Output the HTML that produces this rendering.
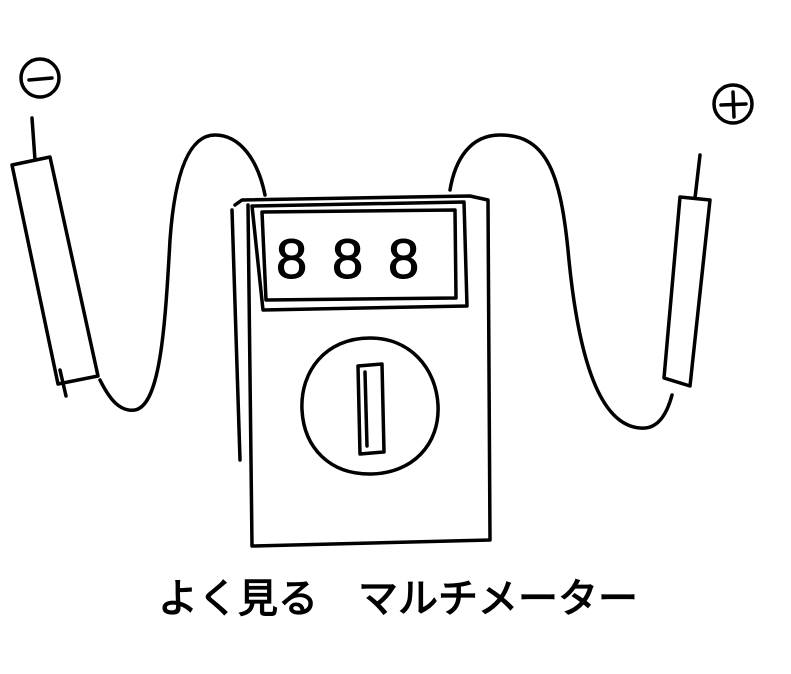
<!DOCTYPE html>
<html><head><meta charset="utf-8"><style>
html,body{margin:0;padding:0;background:#fff;}
svg{display:block}
</style></head><body>
<svg width="791" height="674" viewBox="0 0 791 674" xmlns="http://www.w3.org/2000/svg">
<g fill="none" stroke="#000" stroke-width="3.5" stroke-linecap="round" stroke-linejoin="round">
  <g>
    <circle cx="40" cy="78" r="19"/>
    <path d="M29 80 L52 78"/>
  </g>
  <g>
    <circle cx="733" cy="104" r="19"/>
    <path d="M721 105 L746 104"/>
    <path d="M733 92 L734 117"/>
  </g>
  <g>
    <path d="M32 118 L35 160"/>
    <path d="M12 165 L50 157 L98 376 L58 384 Z"/>
    <path d="M60 370 L66 396"/>
  </g>
  <path d="M100 380 C110 400 120 412 135 410 C160 405 165 330 170 240 C175 170 190 135 215 135 C240 135 258 160 265 195"/>
  <g>
    <path d="M700 155 L695 198"/>
    <path d="M680 197 L710 200 L690 386 L664 378 Z"/>
  </g>
  <path d="M450 190 C455 160 470 135 500 135 C545 135 560 170 568 250 C578 360 600 425 640 428 C660 430 668 410 672 395"/>
  <g>
    <path d="M235 205 L242 200 L470 196 L488 200 L490 540 L252 546 L248 205"/>
    <path d="M232 210 L240 460"/>
  </g>
  <g>
    <path d="M252 206 L464 202 L467 306 L263 310 Z"/>
    <path d="M262 212 L455 210 L456 298 L266 300 Z"/>
  </g>
  <g>
    <path d="M370 338 C325 338 300 372 302 410 C304 448 330 475 372 474 C412 473 440 445 438 405 C436 368 410 338 370 338 Z"/>
    <path d="M358 366 L382 364 L384 452 L360 454 Z"/>
    <path d="M365 372 L367 446"/>
  </g>
</g>
<g font-family="Liberation Sans, sans-serif" font-size="56" fill="#000" stroke="#000" stroke-width="1">
  <text x="276" y="278">8</text>
  <text x="332" y="278">8</text>
  <text x="388" y="278">8</text>
</g>
<text x="158" y="612" font-family="Liberation Sans, 'Noto Sans CJK JP', sans-serif" font-size="40" fill="#000" stroke="#000" stroke-width="1.2">よく見る　マルチメーター</text>
</svg>
</body></html>
